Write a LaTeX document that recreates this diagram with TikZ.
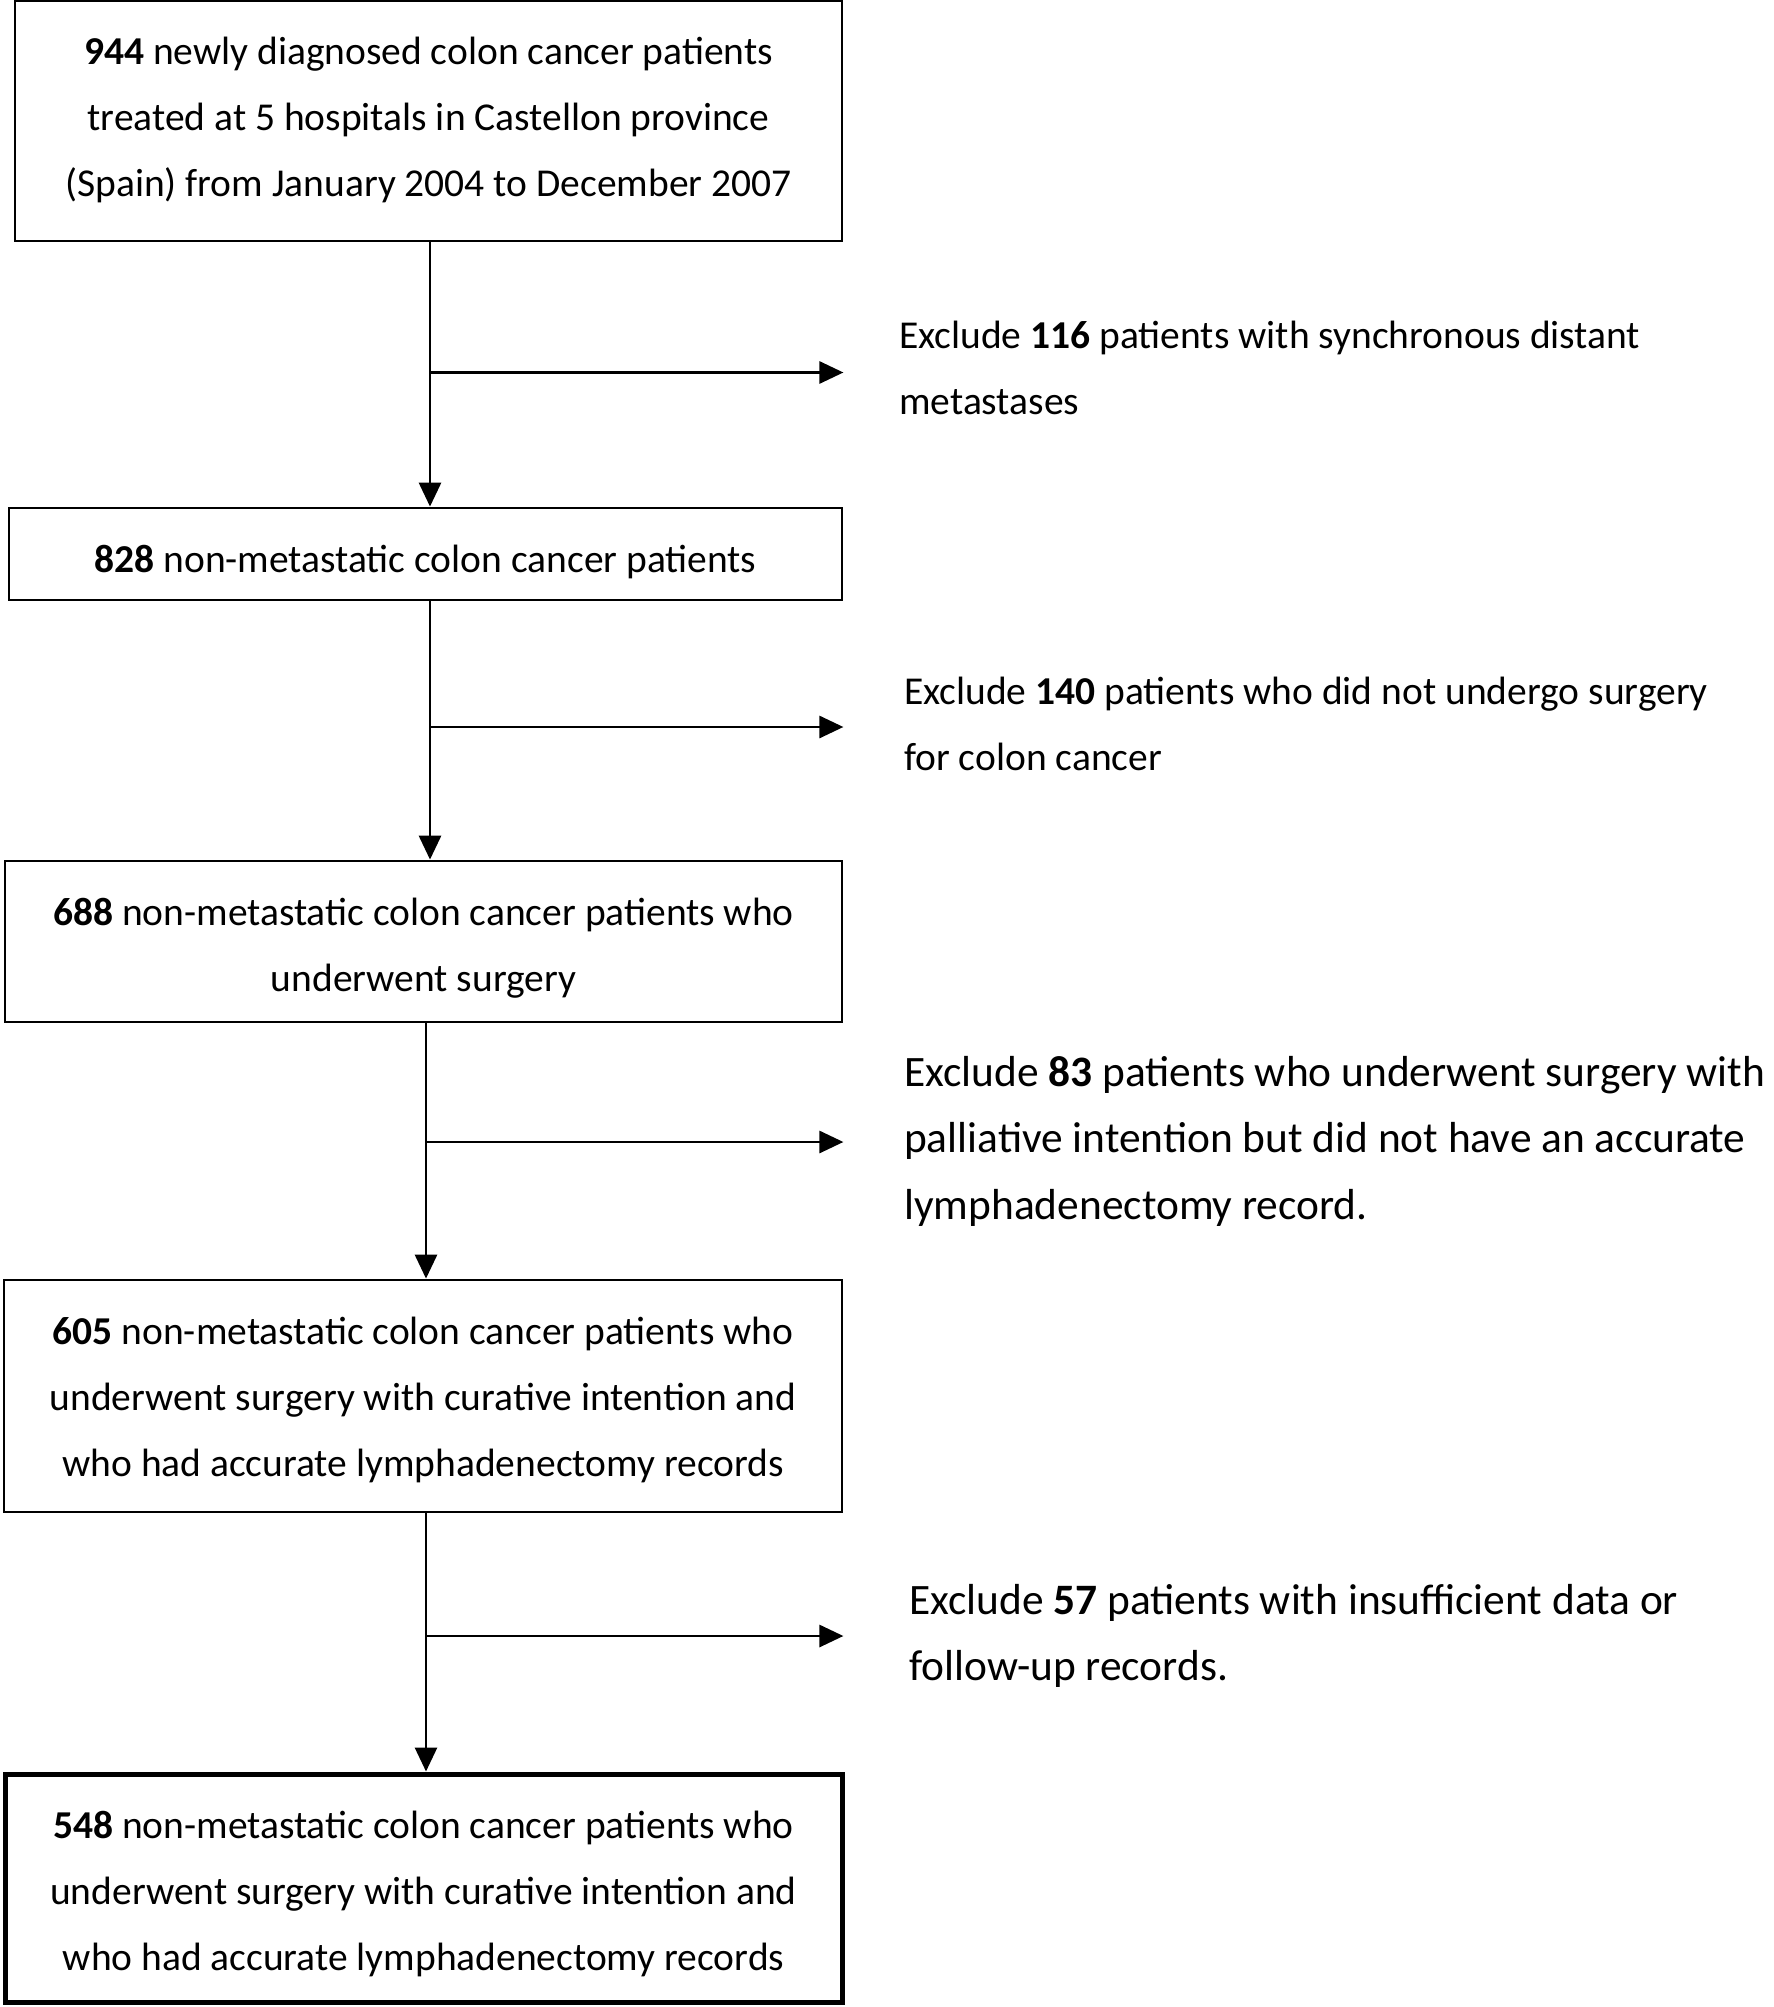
\documentclass[tikz,border=0pt]{standalone}
\usepackage{fontspec}
\setmainfont{Carlito}
\usetikzlibrary{arrows.meta}
\begin{document}
\begin{tikzpicture}[x=1pt,y=-1pt,
  box/.style={draw=black,line width=2.8pt,rectangle,inner sep=0pt,align=center,
    font=\fontsize{39.5}{66}\selectfont},
  finalbox/.style={box,line width=5pt},
  note/.style={inner sep=0pt,align=left,anchor=west},
  smallnote/.style={note,font=\fontsize{39.5}{66}\selectfont},
  bignote/.style={note,font=\fontsize{43.4}{66.5}\selectfont},
  arr/.style={line width=2.9pt,-{Triangle[length=24pt,width=22pt]}}]
\useasboundingbox (0,0) rectangle (1773,2007);
\fill[white] (0,0) rectangle (1773,2007);

\node[box,minimum width=827pt,minimum height=240pt,text height=151pt,text depth=0pt] (b1) at (428.5,121)
  {\textbf{944} newly diagnosed colon cancer patients\\treated at 5 hospitals in Castellon province\\(Spain) from January 2004 to December 2007};
\node[box,minimum width=833pt,minimum height=92pt,text height=36.4pt,text depth=0pt] (b2) at (425.5,554)
  {\textbf{828} non-metastatic colon cancer patients};
\node[box,minimum width=837pt,minimum height=161pt,text height=100pt,text depth=0pt] (b3) at (423.5,941.5)
  {\textbf{688} non-metastatic colon cancer patients who\\underwent surgery};
\node[box,minimum width=838pt,minimum height=232pt,text height=160.5pt,text depth=0pt] (b4) at (423,1396)
  {\textbf{605} non-metastatic colon cancer patients who\\underwent surgery with curative intention and\\who had accurate lymphadenectomy records};
\node[finalbox,minimum width=837pt,minimum height=228pt,text height=164.2pt,text depth=0pt] (b5) at (423.5,1888)
  {\textbf{548} non-metastatic colon cancer patients who\\underwent surgery with curative intention and\\who had accurate lymphadenectomy records};

\node[smallnote] (e1) at (899,368)
  {Exclude \textbf{116} patients with synchronous distant\\metastases};
\node[smallnote] (e2) at (904,724)
  {Exclude \textbf{140} patients who did not undergo surgery\\for colon cancer};
\node[bignote] (e3) at (904,1141)
  {Exclude \textbf{83} patients who underwent surgery with\\palliative intention but did not have an accurate\\lymphadenectomy record.};
\node[bignote] (e4) at (909,1636)
  {Exclude \textbf{57} patients with insufficient data or\\follow-up records.};

\coordinate (j1) at (430,372.5);
\coordinate (j2) at (430,727);
\coordinate (j3) at (426,1142);
\coordinate (j4) at (426,1636);

\draw[arr] (b1.south -| j1) -- (b2.north -| j1);
\draw[arr] (b2.south -| j2) -- (b3.north -| j2);
\draw[arr] (b3.south -| j3) -- (b4.north -| j3);
\draw[arr] (b4.south -| j4) -- (b5.north -| j4);

\draw[arr] (j1) -- (j1 -| b1.east);
\draw[arr] (j2) -- (j2 -| b2.east);
\draw[arr] (j3) -- (j3 -| b3.east);
\draw[arr] (j4) -- (j4 -| b4.east);
\end{tikzpicture}
\end{document}
